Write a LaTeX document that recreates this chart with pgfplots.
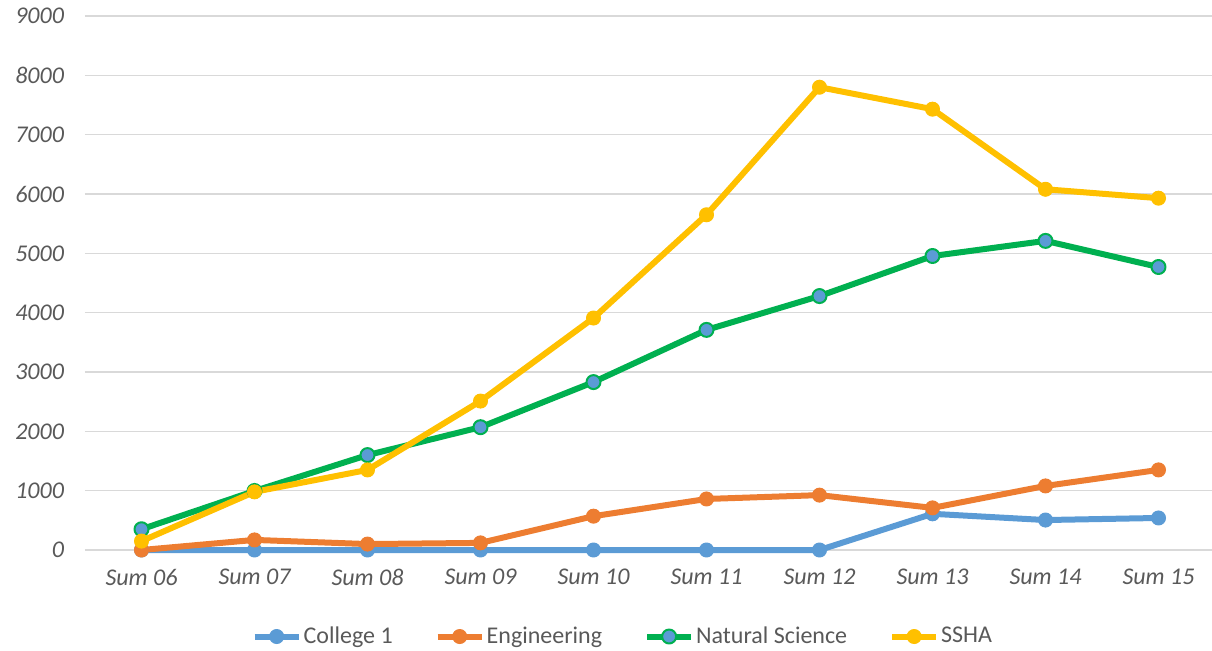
\documentclass[border=0pt]{standalone}
\usepackage{pgfplots}
\pgfplotsset{compat=1.18}
\usepackage{fontspec}
\setmainfont{Carlito}
\definecolor{cBlue}{HTML}{5B9BD5}
\definecolor{cOrange}{HTML}{ED7D31}
\definecolor{cGreen}{HTML}{00B050}
\definecolor{cYellow}{HTML}{FFC000}
\definecolor{cGrid}{HTML}{D9D9D9}
\definecolor{cText}{HTML}{595959}
\begin{document}
\begin{tikzpicture}
\useasboundingbox (0,0) rectangle (606pt,325pt);
\begin{axis}[
  at={(42.5pt,50pt)}, anchor=south west,
  scale only axis, width=565pt, height=267pt,
  xmin=-0.5, xmax=9.5, ymin=0, ymax=9000,
  xtick={0,...,9},
  xticklabels={Sum 06,Sum 07,Sum 08,Sum 09,Sum 10,Sum 11,Sum 12,Sum 13,Sum 14,Sum 15},
  ytick={0,1000,...,9000},
  scaled y ticks=false,
  /pgf/number format/assume math mode=true,
  yticklabel={\pgfmathprintnumber[fixed,1000 sep={}]{\tick}},
  tick label style={font=\fontsize{12}{14}\selectfont\itshape, text=cText},
  xticklabel style={yshift=-6pt},
  yticklabel style={xshift=-7pt},
  major tick length=0pt,
  axis line style={draw=none},
  ymajorgrids, grid style={cGrid, line width=0.75pt},
  clip=false,
  legend style={at={(0.476,-0.162)}, anchor=center, draw=none, fill=none,
    legend columns=4, font=\fontsize{12}{14}\selectfont, text=cText,
    nodes={inner xsep=1pt},
    /tikz/every even column/.append style={column sep=20pt}},
  legend cell align=left,
  legend image code/.code={\draw[mark repeat=2,mark phase=2,#1] plot coordinates {(0pt,0pt) (11pt,0pt) (22pt,0pt)};},
  every axis plot/.append style={line width=3pt, line join=round},
]
\addplot[cBlue, mark=*, mark size=3.5pt, mark options={fill=cBlue, draw=cBlue, line width=0.5pt}] coordinates {
(0,0) (1,0) (2,0) (3,0) (4,0) (5,0) (6,0) (7,610) (8,505) (9,540)};
\addlegendentry{College 1}
\addplot[cOrange, mark=*, mark size=3.5pt, mark options={fill=cOrange, draw=cOrange, line width=0.5pt}] coordinates {
(0,0) (1,170) (2,100) (3,120) (4,570) (5,860) (6,925) (7,710) (8,1080) (9,1350)};
\addlegendentry{Engineering}
\addplot[cGreen, mark=*, mark size=3.5pt, mark options={fill=cBlue, draw=cGreen, line width=1pt}] coordinates {
(0,350) (1,995) (2,1600) (3,2070) (4,2830) (5,3710) (6,4280) (7,4955) (8,5210) (9,4770)};
\addlegendentry{Natural Science}
\addplot[cYellow, mark=*, mark size=3.5pt, mark options={fill=cYellow, draw=cYellow, line width=0.5pt}] coordinates {
(0,150) (1,980) (2,1350) (3,2510) (4,3910) (5,5650) (6,7800) (7,7430) (8,6080) (9,5930)};
\addlegendentry{SSHA}
\end{axis}
\end{tikzpicture}
\end{document}
